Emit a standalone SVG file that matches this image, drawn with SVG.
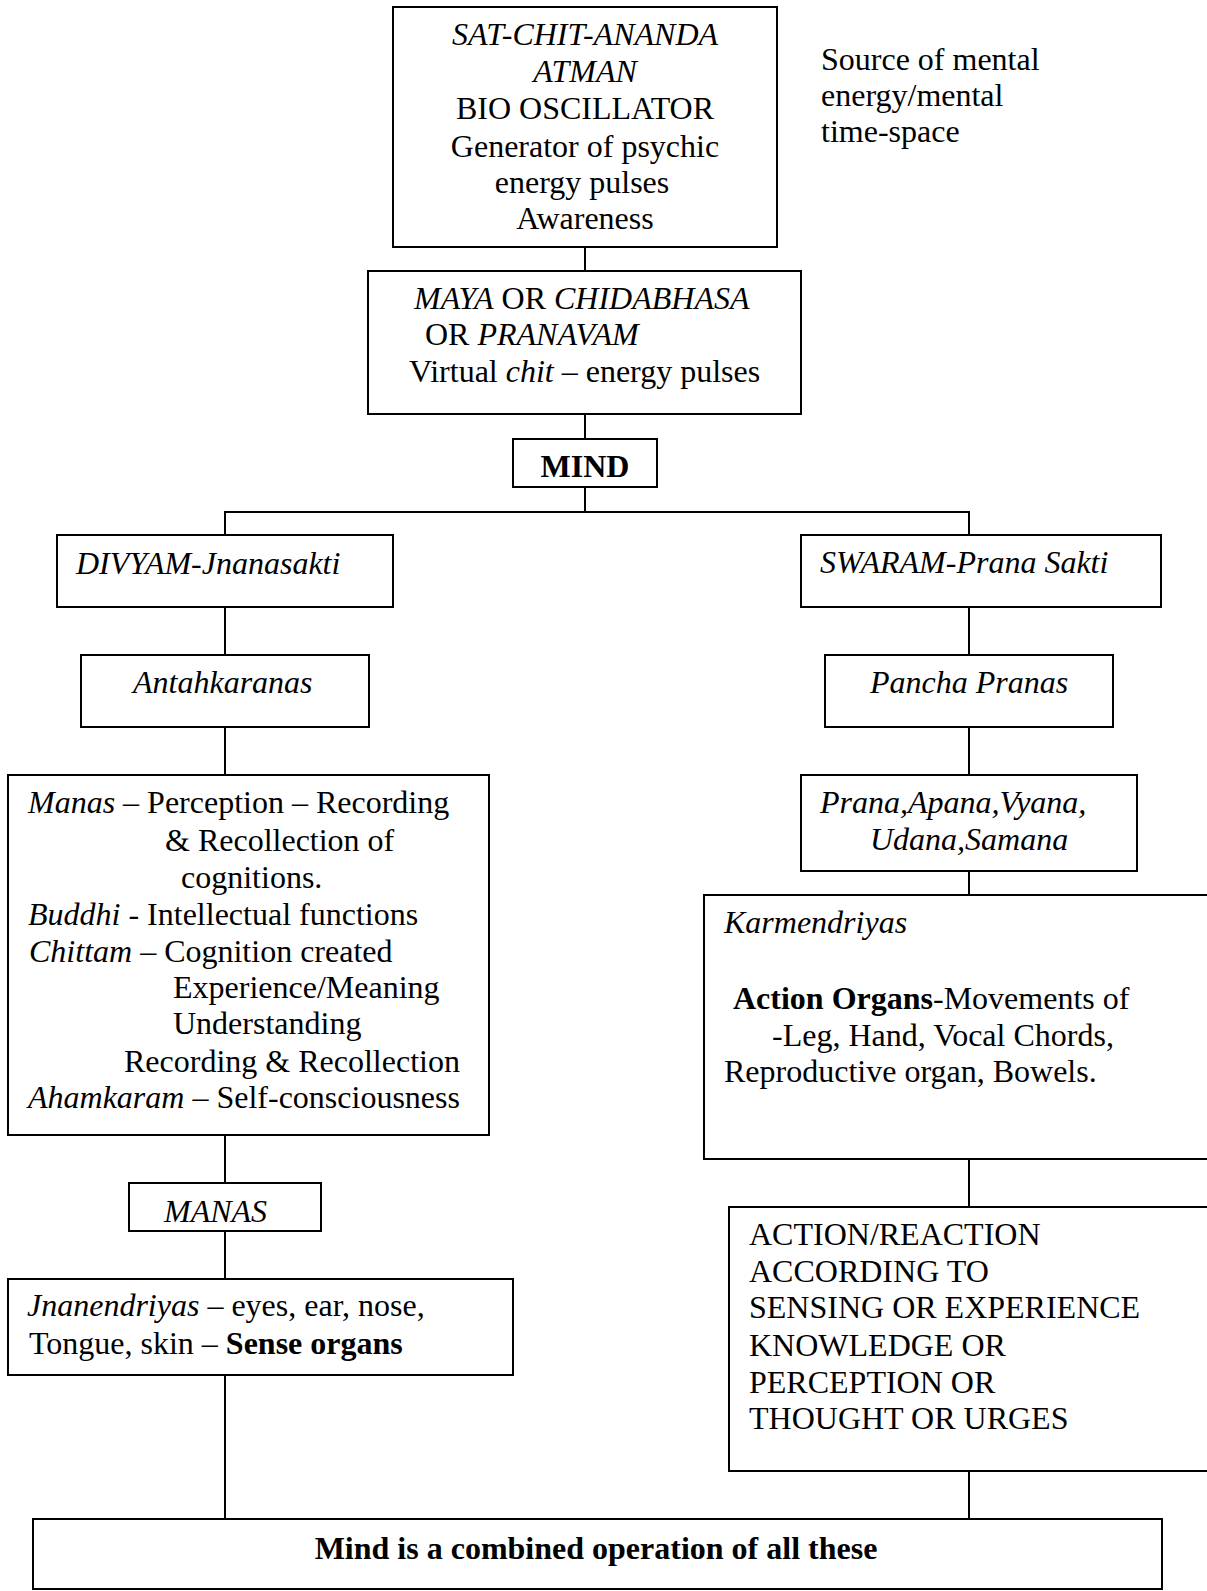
<svg xmlns="http://www.w3.org/2000/svg" width="1207" height="1591" viewBox="0 0 1207 1591">
<style>
  .box { fill: #ffffff; stroke: #000000; stroke-width: 2; }
  .con line { stroke: #000000; stroke-width: 2; }
  text { font-family: "Liberation Serif", "Times New Roman", serif; font-size: 32px; fill: #000000; }
  .c { text-anchor: middle; }
  .i { font-style: italic; }
  .b { font-weight: bold; }
</style>
<rect x="0" y="0" width="1207" height="1591" fill="#ffffff"/>

<g id="connectors" class="con">
  <line x1="585" y1="247" x2="585" y2="271"/>
  <line x1="585" y1="414" x2="585" y2="439"/>
  <line x1="585" y1="487" x2="585" y2="512"/>
  <line x1="224" y1="512" x2="970" y2="512"/>
  <line x1="225" y1="512" x2="225" y2="535"/>
  <line x1="969" y1="512" x2="969" y2="535"/>
  <line x1="225" y1="607" x2="225" y2="655"/>
  <line x1="969" y1="607" x2="969" y2="655"/>
  <line x1="225" y1="727" x2="225" y2="775"/>
  <line x1="969" y1="727" x2="969" y2="775"/>
  <line x1="969" y1="871" x2="969" y2="895"/>
  <line x1="225" y1="1135" x2="225" y2="1183"/>
  <line x1="225" y1="1231" x2="225" y2="1279"/>
  <line x1="225" y1="1375" x2="225" y2="1519"/>
  <line x1="969" y1="1159" x2="969" y2="1207"/>
  <line x1="969" y1="1471" x2="969" y2="1519"/>
</g>

<g id="atman">
  <rect class="box" x="393" y="7" width="384" height="240"/>
  <text class="c i" x="585" y="45">SAT-CHIT-ANANDA</text>
  <text class="c i" x="585" y="82">ATMAN</text>
  <text class="c" x="585" y="119">BIO OSCILLATOR</text>
  <text class="c" x="585" y="157">Generator of psychic</text>
  <text class="c" x="582" y="193">energy pulses</text>
  <text class="c" x="585" y="229">Awareness</text>
</g>

<g id="source-note">
  <text x="821" y="70">Source of mental</text>
  <text x="821" y="106">energy/mental</text>
  <text x="821" y="142">time-space</text>
</g>

<g id="maya">
  <rect class="box" x="368" y="271" width="433" height="143"/>
  <text x="414" y="309"><tspan class="i">MAYA</tspan> OR <tspan class="i">CHIDABHASA</tspan></text>
  <text x="425" y="345">OR <tspan class="i">PRANAVAM</tspan></text>
  <text x="409" y="382">Virtual <tspan class="i">chit</tspan> – energy pulses</text>
</g>

<g id="mind">
  <rect class="box" x="513" y="439" width="144" height="48"/>
  <text class="c b" x="585" y="477">MIND</text>
</g>

<g id="divyam">
  <rect class="box" x="57" y="535" width="336" height="72"/>
  <text class="i" x="76" y="574">DIVYAM-Jnanasakti</text>
</g>

<g id="swaram">
  <rect class="box" x="801" y="535" width="360" height="72"/>
  <text class="i" x="820" y="573">SWARAM-Prana Sakti</text>
</g>

<g id="antahkaranas">
  <rect class="box" x="81" y="655" width="288" height="72"/>
  <text class="i" x="133" y="693">Antahkaranas</text>
</g>

<g id="pancha-pranas">
  <rect class="box" x="825" y="655" width="288" height="72"/>
  <text class="i" x="870" y="693">Pancha Pranas</text>
</g>

<g id="antahkaranas-detail">
  <rect class="box" x="8" y="775" width="481" height="360"/>
  <text x="28" y="813"><tspan class="i">Manas</tspan> – Perception – Recording</text>
  <text x="165" y="851">&amp; Recollection of</text>
  <text x="181" y="888">cognitions.</text>
  <text x="28" y="925"><tspan class="i">Buddhi</tspan> - Intellectual functions</text>
  <text x="29" y="962"><tspan class="i">Chittam</tspan> – Cognition created</text>
  <text x="173" y="998">Experience/Meaning</text>
  <text x="173" y="1034">Understanding</text>
  <text x="124" y="1072">Recording &amp; Recollection</text>
  <text x="28" y="1108"><tspan class="i">Ahamkaram</tspan> – Self-consciousness</text>
</g>

<g id="pranas-list">
  <rect class="box" x="801" y="775" width="336" height="96"/>
  <text class="i" x="820" y="813">Prana,Apana,Vyana,</text>
  <text class="i" x="870" y="850">Udana,Samana</text>
</g>

<g id="karmendriyas">
  <rect class="box" x="704" y="895" width="520" height="264"/>
  <text class="i" x="724" y="933">Karmendriyas</text>
  <text x="733" y="1009"><tspan class="b">Action Organs</tspan>-Movements of</text>
  <text x="772" y="1046">-Leg, Hand, Vocal Chords,</text>
  <text x="724" y="1082">Reproductive organ, Bowels.</text>
</g>

<g id="manas">
  <rect class="box" x="129" y="1183" width="192" height="48"/>
  <text class="i" x="164" y="1222">MANAS</text>
</g>

<g id="action-reaction">
  <rect class="box" x="729" y="1207" width="490" height="264"/>
  <text x="749" y="1245">ACTION/REACTION</text>
  <text x="749" y="1282">ACCORDING TO</text>
  <text x="749" y="1318">SENSING OR EXPERIENCE</text>
  <text x="749" y="1356">KNOWLEDGE OR</text>
  <text x="749" y="1393">PERCEPTION OR</text>
  <text x="749" y="1429">THOUGHT OR URGES</text>
</g>

<g id="jnanendriyas">
  <rect class="box" x="8" y="1279" width="505" height="96"/>
  <text x="27" y="1316"><tspan class="i">Jnanendriyas</tspan> – eyes, ear, nose,</text>
  <text x="29" y="1354">Tongue, skin – <tspan class="b">Sense organs</tspan></text>
</g>

<g id="combined">
  <rect class="box" x="33" y="1519" width="1129" height="70"/>
  <text class="c b" x="596" y="1559">Mind is a combined operation of all these</text>
</g>
</svg>
